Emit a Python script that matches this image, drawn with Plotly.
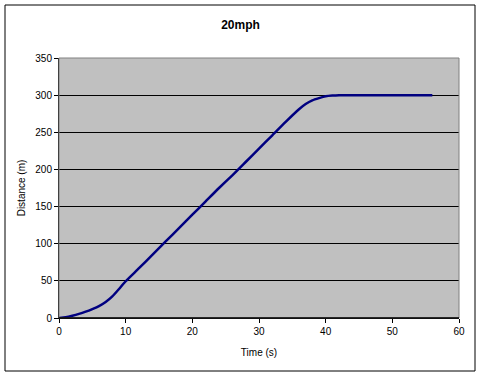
import plotly.graph_objects as go

time_s = [0, 1, 2, 3, 4, 5, 6, 7, 8, 9, 10, 12, 14, 16, 18, 20, 22, 24, 26, 28, 30, 32, 34, 36, 37, 38, 39, 40, 41, 42, 56]
distance_m = [0, 1, 3, 5.5, 8.5, 12, 16, 21.5, 29, 39, 49.5, 67, 85, 103, 121, 139, 157, 175, 192, 210, 228, 246, 264, 281, 288, 293, 296, 298.5, 299.5, 300, 300]

x_ticks = [0, 10, 20, 30, 40, 50, 60]
y_ticks = [0, 50, 100, 150, 200, 250, 300, 350]

font_family = "Liberation Sans, Arial, sans-serif"

fig = go.Figure()
fig.add_trace(go.Scatter(
    x=time_s, y=distance_m, mode="lines",
    line=dict(color="#000080", width=2.5, shape="spline", smoothing=0.5),
    showlegend=False, hoverinfo="skip",
))

fig.update_layout(
    width=481, height=376,
    margin=dict(l=59, r=22, t=58, b=58),
    paper_bgcolor="white",
    plot_bgcolor="#C0C0C0",
    font=dict(family=font_family, size=10, color="black"),
    title=dict(text="<b>20mph</b>", x=0.5, xanchor="center", y=1 - 25/376, yanchor="middle",
               font=dict(size=12, family=font_family, color="black")),
    xaxis=dict(
        range=[0, 60], tickvals=x_ticks, ticktext=[str(v) for v in x_ticks],
        showgrid=False, zeroline=False,
        showline=True, linecolor="black", linewidth=1,
        ticks="outside", ticklen=4, tickcolor="black", tickwidth=1,
        tickfont=dict(size=10), title=dict(text="Time (s)", font=dict(size=10), standoff=12),
    ),
    yaxis=dict(
        range=[0, 350], tickvals=y_ticks, ticktext=[str(v) for v in y_ticks],
        showgrid=True, gridcolor="black", gridwidth=1, zeroline=False,
        showline=True, linecolor="black", linewidth=1,
        ticks="outside", ticklen=4, tickcolor="black", tickwidth=1,
        tickfont=dict(size=10), title=dict(text="Distance (m)", font=dict(size=10), standoff=7),
    ),
    shapes=[
        dict(type="rect", xref="paper", yref="paper", x0=0, x1=1, y0=0, y1=1,
             line=dict(color="#808080", width=1), fillcolor="rgba(0,0,0,0)", layer="above"),
        dict(type="line", xref="paper", yref="paper", x0=0, x1=1, y0=0, y1=0,
             line=dict(color="black", width=1.5), layer="above"),
        dict(type="rect", xref="paper", yref="paper",
             x0=-54/400, x1=416/400, y0=-53/260, y1=1 + 53/260,
             line=dict(color="black", width=1), fillcolor="rgba(0,0,0,0)", layer="above"),
    ],
)

fig.write_html("out.html", config={"displayModeBar": False})

with open("out.html", "r", encoding="utf-8") as f:
    html = f.read()
html = html.replace("<body>", '<body style="margin:0;padding:0;overflow:hidden">', 1)
html = html.replace("<head>", "<head><style>html,body{margin:0;padding:0;overflow:hidden}</style>", 1)
with open("out.html", "w", encoding="utf-8") as f:
    f.write(html)
